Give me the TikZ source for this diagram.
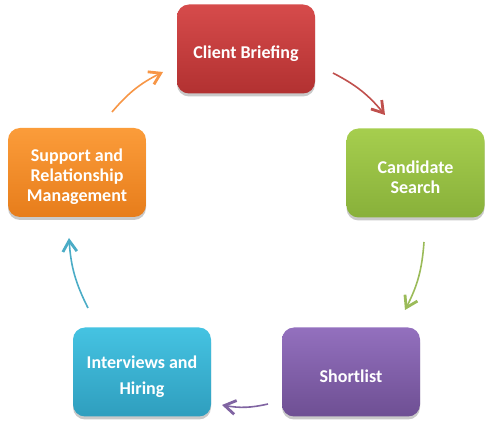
\documentclass[tikz,border=0pt]{standalone}
\usepackage{fontspec}
\setmainfont{Carlito}
\usetikzlibrary{arrows.meta,shadows}
\definecolor{redA}{HTML}{D64B4B}\definecolor{redB}{HTML}{B23131}\definecolor{redL}{HTML}{C0504D}
\definecolor{grnA}{HTML}{A6CE4E}\definecolor{grnB}{HTML}{88B03A}\definecolor{grnL}{HTML}{9BBB59}
\definecolor{purA}{HTML}{9370BE}\definecolor{purB}{HTML}{6E4F93}\definecolor{purL}{HTML}{8064A2}
\definecolor{cyaA}{HTML}{45C3E2}\definecolor{cyaB}{HTML}{2F9EBE}\definecolor{cyaL}{HTML}{4BACC6}
\definecolor{orgA}{HTML}{FB9C3A}\definecolor{orgB}{HTML}{E77D1B}\definecolor{orgL}{HTML}{F79646}
\tikzset{
  box/.style 2 args={rectangle, rounded corners=12pt, minimum width=138pt, minimum height=89pt,
    inner sep=0pt, top color=#1, bottom color=#2, draw=none,
    drop shadow={shadow xshift=0pt, shadow yshift=-3pt, opacity=0.3, fill=black!70}},
  lbl/.style={text=white, font=\bfseries\fontsize{18}{20}\selectfont, align=center, inner sep=0pt},
  cyc/.style={draw=#1, line width=1.6pt, bend left=11.5,
    -{Straight Barb[length=11pt,width=14pt,line width=2.8pt]}}
}
\begin{document}
\begin{tikzpicture}[x=1pt,y=-1pt]
\useasboundingbox (0,0) rectangle (493,430);
\node[box={redA}{redB}] (client) at (246,49) {};
\node[box={grnA}{grnB}] (cand) at (415.5,173) {};
\node[box={purA}{purB}] (short) at (351,372) {};
\node[box={cyaA}{cyaB}] (inter) at (142,372) {};
\node[box={orgA}{orgB}] (supp) at (77,172.5) {};
\node[lbl] (tclient) at ([yshift=-4.5pt]client.center) {Client Briefing};
\node[lbl] (tcand) at ([yshift=-4.5pt]cand.center) {Candidate\\Search};
\node[lbl] (tshort) at ([yshift=-4.5pt]short.center) {Shortlist};
\node[lbl] (tinter) at ([yshift=-4.5pt]inter.center) {Interviews and\\[6.5pt]Hiring};
\node[lbl] (tsupp) at ([yshift=-4.5pt]supp.center) {Support and\\Relationship\\Management};
\coordinate (r1) at (333,73);  \coordinate (r2) at (385,115);
\coordinate (g1) at (424,242); \coordinate (g2) at (405,310);
\coordinate (p1) at (268,404); \coordinate (p2) at (222,405);
\coordinate (c1) at (88,308);  \coordinate (c2) at (69,238);
\coordinate (o1) at (112,112); \coordinate (o2) at (163,72);
\draw[cyc=redL] (r1) to (r2);
\draw[cyc=grnL] (g1) to (g2);
\draw[cyc=purL] (p1) to (p2);
\draw[cyc=cyaL] (c1) to (c2);
\draw[cyc=orgL] (o1) to (o2);
\end{tikzpicture}
\end{document}
